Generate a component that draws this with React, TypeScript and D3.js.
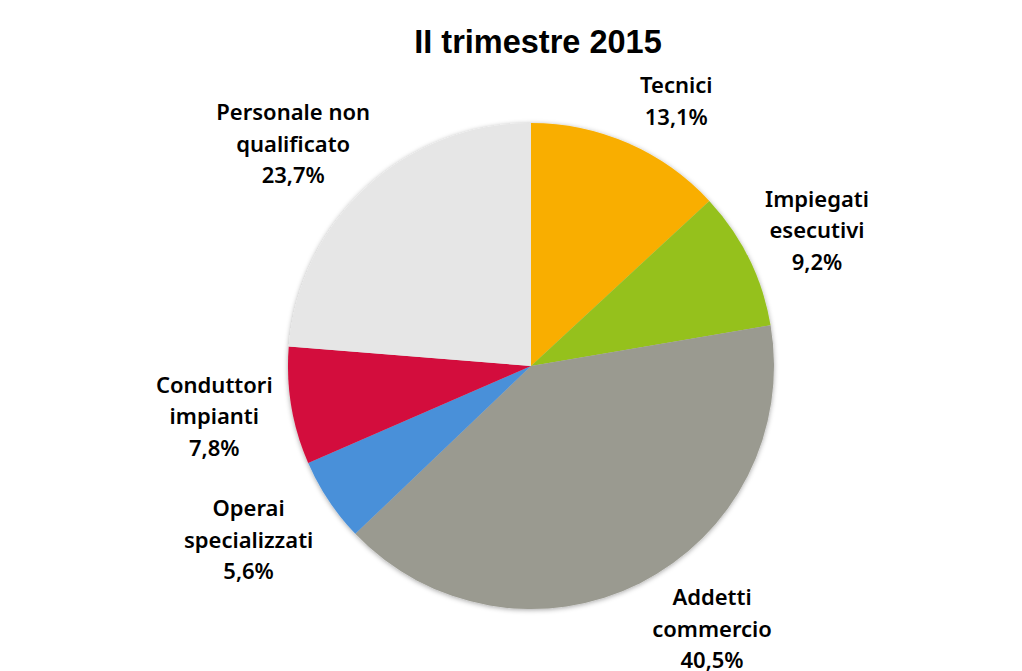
import React from "react";
import * as d3 from "d3";

const categories = [
  ["Tecnici"],
  ["Impiegati", "esecutivi"],
  ["Addetti", "commercio"],
  ["Operai", "specializzati"],
  ["Conduttori", "impianti"],
  ["Personale non", "qualificato"],
];
const values = [13.1, 9.2, 40.5, 5.6, 7.8, 23.7];
const valueLabels = ["13,1%", "9,2%", "40,5%", "5,6%", "7,8%", "23,7%"];
const colors = ["#F9AE00", "#95C11F", "#9A9A90", "#4A90D9", "#D30F3C", "#E6E6E6"];
const title = "II trimestre 2015";

const W = 1022;
const H = 671;
const cx = 531;
const cy = 366;
const R = 243;
const fontSize = 22;
const lineH = 31.5;

// label layout: offset of the label block (centre x, first baseline) relative to the slice's outer mid-point
const labelNudge: [number, number][] = [
  [48, -50],
  [68, -52],
  [72, 22],
  [-80, 16],
  [-77, -13],
  [-73, -67],
];

export default function App() {
  const pie = d3.pie<number>().sort(null).value((d) => d)(values);
  const arc = d3.arc<d3.PieArcDatum<number>>().innerRadius(0).outerRadius(R);

  return (
    <svg
      width={W}
      height={H}
      style={{ position: "absolute", left: 0, top: 0, background: "#fff" }}
    >
      <defs>
        <filter id="sh" x="-10%" y="-10%" width="120%" height="120%">
          <feDropShadow dx="0" dy="1" stdDeviation="2.5" floodColor="#000" floodOpacity="0.35" />
        </filter>
      </defs>
      <text
        x={538}
        y={53}
        textAnchor="middle"
        fontFamily="'Liberation Sans', Arial, sans-serif"
        fontWeight="bold"
        fontSize={32.5}
        fill="#000"
      >
        {title}
      </text>
      <g transform={`translate(${cx},${cy})`} filter="url(#sh)">
        {pie.map((p, i) => (
          <path key={i} d={arc(p) || ""} fill={colors[i]} />
        ))}
      </g>
      {pie.map((p, i) => {
        const lines = [...categories[i], valueLabels[i]];
        const mid = (p.startAngle + p.endAngle) / 2;
        const ex = cx + Math.sin(mid) * R;
        const ey = cy - Math.cos(mid) * R;
        const x = ex + labelNudge[i][0];
        const y0 = ey + labelNudge[i][1];
        return (
          <text
            key={i}
            textAnchor="middle"
            fontFamily="'Noto Sans', sans-serif"
            fontWeight={600}
            fontSize={fontSize}
            fill="#000"
          >
            {lines.map((l, j) => (
              <tspan key={j} x={x} y={y0 + j * lineH}>
                {l}
              </tspan>
            ))}
          </text>
        );
      })}
    </svg>
  );
}
